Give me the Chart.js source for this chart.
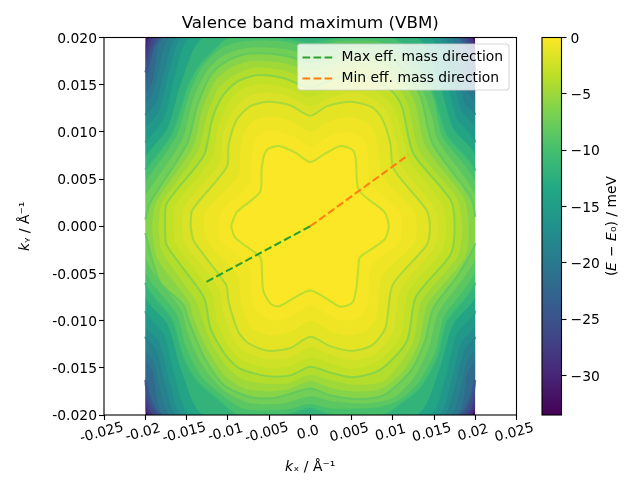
<!DOCTYPE html>
<html>
<head>
<meta charset="utf-8">
<script src="https://cdn.jsdelivr.net/npm/chart.js@4/dist/chart.umd.min.js"></script>
<style>
body{margin:0;background:#fff}
canvas{position:absolute;top:0}
</style>
</head>
<body>
<canvas id="bandChart" width="640" height="480" style="left:0"></canvas>
<canvas id="colourBar" width="110" height="480" style="left:530px"></canvas>
<script>
// contour shapes, in units of 1e-3 1/angstrom
const rim=[[-20,20],[20,20],[20,-20],[-20,-20]]
const c31=[[-20,19.2],[-19.6,20],[19.6,20],[20,19.2],[20,-19.2],[19.6,-20],[-19.6,-20],[-20,-19.2]]
const c29=[[-20,18.5],[-19.3,20],[19.3,20],[20,18.5],[20,-18.5],[19.3,-20],[-19.3,-20],[-20,-18.5]]
const c27=[[-20,17.4],[-18.8,20],[18.8,20],[20,17.4],[20,-17.4],[18.8,-20],[-18.8,-20],[-20,-17.4]]
const c25=[[-20,16.3],[-18.2,20],[18.2,20],[20,16.3],[20,-16.3],[18.2,-20],[-18.2,-20],[-20,-16.3]]
const c23=[[-20,15],[-17.8,20],[17.8,20],[20,15],[20,-15],[17.8,-20],[-17.8,-20],[-20,-15]]
const c21=[[-20,13.9],[-19.1,15.5],[-17.6,20],[17.6,20],[19.1,15.5],[20,13.9],[20,-13.9],[19.1,-15.5],[17.6,-20],[-17.6,-20],[-19.1,-15.5],[-20,-13.9]]
const c19=[[-20,12.9],[-19,14.3],[-18,18],[-16.9,20],[16.9,20],[18,18],[19,14.3],[20,12.9],[20,-12.9],[19,-14.3],[18,-18],[16.9,-20],[-16.9,-20],[-18,-18],[-19,-14.3],[-20,-12.9]]
const c18=[[-20,11.8],[-18.8,13.1],[-17.6,17.1],[-16.2,20],[16.2,20],[17.6,17.1],[18.8,13.1],[20,11.8],[20,-11.7],[18.8,-13.1],[17.6,-17.1],[16.2,-20],[-16.2,-20],[-17.6,-17.1],[-18.8,-13.1],[-20,-11.7]]
const c16=[[-20,10.4],[-18.3,12.3],[-17,16.7],[-15.4,20],[15.4,20],[17,16.7],[18.3,12.3],[20,10.4],[20,-10.4],[18.3,-12.3],[17,-16.7],[15.4,-20],[-15.4,-20],[-17,-16.7],[-18.3,-12.3],[-20,-10.4]]
const c15=[[-20,8.9],[-17.8,11.5],[-16.4,16.3],[-14.5,20],[14.5,20],[16.4,16.3],[17.8,11.5],[20,8.9],[20,-9],[17.8,-11.5],[16.4,-16.3],[14.5,-20],[-14.5,-20],[-16.4,-16.3],[-17.8,-11.5],[-20,-9]]
const c13=[[-20,7.4],[-17.3,10.4],[-15.6,15.3],[-12.8,20],[12.8,20],[15.6,15.3],[17.3,10.4],[20,7.4],[20,-7.4],[17.3,-10.4],[15.6,-15.3],[12.8,-20],[-12.8,-20],[-15.6,-15.3],[-17.3,-10.4],[-20,-7.4]]
const c105=[[-20,6],[-16.8,9.8],[-14.9,14.8],[-13.3,17.3],[-10.9,19.4],[-9.9,20],[-3.5,20],[0,19.5],[3.5,20],[9.9,20],[11.4,19.2],[13.3,17.1],[14.9,14.4],[16.6,9.7],[20,5.9],[20,-6],[16.6,-10.1],[15.4,-14],[13.3,-17.2],[10.9,-18.9],[8.9,-20],[2.4,-20],[0,-19.3],[-2.8,-20],[-8.9,-20],[-10.9,-18.6],[-13.7,-16.5],[-15.4,-14],[-16.8,-9.9],[-20,-6]]
const c92=[[-20,4.7],[-16.2,9.6],[-14.6,14.1],[-13,17],[-10.7,18.9],[-8,19.6],[-3.4,19.6],[0,19],[3.4,19.6],[8,19.6],[11,18.5],[13.3,16.3],[14.9,13.6],[16,9.5],[20,4.6],[20,-4.7],[16.2,-9.6],[15.1,-13.4],[13,-16.7],[10.6,-18.5],[8,-19.2],[2.4,-19.3],[0,-18.8],[-2.8,-19.4],[-7.8,-19.4],[-10.7,-17.9],[-13.3,-15.8],[-15.1,-12.7],[-16.2,-9.3],[-20,-4.7]]
const c79=[[-20,3.3],[-15.5,9.2],[-14.2,13.4],[-12.4,16.6],[-10.3,18.2],[-7.6,18.9],[-3.3,18.8],[0,18.2],[3.3,18.8],[7.6,18.9],[10.6,18],[13.3,15],[14.8,11.5],[15.4,9.2],[20,3.2],[20,-3.4],[15.5,-9.2],[14.4,-12.8],[12.6,-16],[10,-18.2],[6.5,-18.8],[2.4,-18.5],[0,-18],[-3.5,-18.8],[-7.5,-18.7],[-10.6,-17.3],[-13.1,-14.7],[-14.9,-11.2],[-15.6,-8.9],[-20,-3.3]]
const c67=[[-20,0.7],[-19.4,2.5],[-14.9,8.8],[-13.7,12.8],[-11.9,16.2],[-9.9,17.6],[-7.3,18.3],[-3.2,18.1],[0,17.4],[3.3,18.1],[7.3,18.3],[10.3,17.4],[13.3,13.9],[14.8,8.8],[19.4,3.1],[20,1],[20,-1.8],[17.8,-5.3],[14.9,-8.7],[13.9,-12.2],[12.1,-15.4],[8.9,-17.9],[5.7,-18.3],[2.4,-17.9],[0,-17.2],[-4.4,-18.2],[-7.3,-18.1],[-10.5,-16.8],[-12.9,-13.8],[-14.7,-10.1],[-15.4,-8.3],[-18.2,-5.9],[-20,-0.7]]
const c57=[[-19.2,0],[-18.7,2.5],[-14.2,8.4],[-13.1,12.3],[-11.5,15.4],[-9.6,16.8],[-7,17.5],[-3.2,17.3],[0,16.5],[3.2,17.3],[7,17.5],[10.2,16.4],[12.5,13.5],[14,8.4],[18.6,3],[19.2,0],[18.8,-3.2],[14.2,-8.3],[13.2,-12.2],[11.3,-15.3],[8.6,-17.2],[5.5,-17.5],[2.4,-17.1],[0,-16.4],[-2.8,-17.3],[-5,-17.5],[-8,-17.2],[-10.4,-15.8],[-12.6,-12.8],[-14.2,-9.6],[-14.7,-8],[-18.6,-3.3]]
const c46=[[-18.4,0],[-18,2.4],[-13.6,8],[-12.5,11.8],[-11.1,14.6],[-9.2,16],[-6.8,16.8],[-3.2,16.5],[0,15.6],[3.2,16.5],[6.8,16.8],[10,15.4],[11.8,13],[13.2,8],[17.8,2.9],[18.4,0],[17.9,-3.1],[13.5,-7.9],[12.5,-12.2],[10.4,-15.1],[8.7,-16.5],[5.3,-16.8],[2.4,-16.3],[0,-15.7],[-2.6,-16.6],[-5,-16.7],[-8.2,-16.2],[-10.3,-14.7],[-12.3,-11.8],[-13.5,-8.7],[-14,-7.7],[-18,-2.6]]
const c36=[[-17.6,0],[-17.4,2.4],[-12.9,7.5],[-11.9,11.3],[-10.7,13.7],[-8.9,15.3],[-6.5,16],[-3.3,15.7],[0,14.7],[3.3,15.7],[6.4,16],[9.9,14.3],[11.1,12.7],[12.5,7.7],[17,2.8],[17.5,0],[17,-3],[12.8,-7.5],[11.7,-12.2],[8.5,-15.2],[5.2,-16],[2.4,-15.5],[0,-14.9],[-2.4,-15.8],[-5.1,-15.9],[-8.5,-15.1],[-10.3,-13.6],[-12.1,-10.8],[-12.9,-7.5],[-17.4,-2]]
const c30=[[-16.6,0],[-16.4,2.2],[-12,7.1],[-11.2,10.4],[-10.1,12.9],[-8.4,14.5],[-6.1,15.1],[-3,14.7],[0,13.7],[3,14.7],[6,15.1],[9.1,13.6],[10.3,12.2],[11.6,8.2],[11.9,7],[16,2.4],[16.5,0],[16,-2.6],[11.9,-7],[11,-11.6],[8.2,-14.3],[5.2,-15.1],[2.4,-14.5],[0,-13.9],[-2.4,-14.8],[-5.1,-15],[-8.2,-14.2],[-9.8,-12.9],[-11.3,-10],[-12,-7],[-16.3,-1.9]]
const c24=[[-15.5,0],[-15.3,2],[-11,6.7],[-10.6,9.5],[-9.5,12.1],[-7.9,13.6],[-5.7,14.2],[-2.7,13.8],[0,12.7],[2.6,13.7],[5.6,14.2],[8.4,13],[9.5,11.8],[10.6,8.5],[11,6.5],[15,2],[15.5,0],[15,-2.3],[11,-6.6],[10,-11.2],[7.9,-13.5],[5.1,-14.2],[2.4,-13.6],[0,-12.8],[-2.4,-13.9],[-5.1,-14.1],[-7.9,-13.3],[-9.3,-12],[-10.6,-9],[-11.1,-6.6],[-15.2,-1.8]]
const c18b=[[-14.5,0],[-14.3,1.7],[-10.1,6.3],[-9.9,8.6],[-8.9,11.3],[-7.3,12.7],[-5.1,13.2],[-2.4,12.8],[0,11.7],[2,12.7],[4.8,13.2],[7.5,12.6],[8.7,11.4],[9.7,8.8],[10.1,6.1],[14.1,1.7],[14.5,0],[14.1,-2],[10,-6.2],[9.1,-10.8],[7.5,-12.6],[5.1,-13.2],[2.4,-12.7],[0,-11.7],[-2.4,-12.9],[-5.1,-13.2],[-7.5,-12.4],[-8.7,-11.2],[-9.9,-8],[-10.2,-6.2],[-14.1,-1.6]]
const c14=[[-12.9,0],[-12.7,1.6],[-8.7,5.4],[-8.5,7.9],[-7.8,10.3],[-6.5,11.3],[-4.7,11.6],[-2.2,11.1],[0,10],[2,11],[4.4,11.6],[6.6,11.1],[7.6,10.2],[8.3,8],[8.7,5.4],[12.6,1.6],[12.9,0],[12.6,-1.8],[8.7,-5.3],[8,-9.6],[6.7,-11.1],[4.6,-11.6],[2.4,-11.1],[0,-10],[-2.4,-11.2],[-4.7,-11.6],[-6.7,-11],[-7.7,-10],[-8.5,-7.4],[-8.8,-5.2],[-12.6,-1.5]]
const c09=[[-11.2,0],[-10.8,1.5],[-7.4,4.5],[-7.2,6.9],[-6.7,9.2],[-5.8,10],[-4.2,10.1],[-2,9.5],[0,8.4],[1.9,9.4],[4,10],[5.8,9.7],[6.6,9],[7,7.7],[7.3,4.6],[10.9,1.5],[11.1,0],[10.9,-1.6],[7.4,-4.3],[7,-8.2],[5.9,-9.7],[4.1,-10],[2.4,-9.5],[0,-8.4],[-2.4,-9.6],[-4.2,-10],[-5.7,-9.6],[-6.7,-8.7],[-7.2,-7.1],[-7.5,-4.2],[-10.9,-1.4]]
const c05=[[-9.6,0],[-8.9,1.5],[-6.1,3.6],[-5.9,6],[-5.6,7.5],[-5.1,8.2],[-3.8,8.5],[-1.8,7.8],[0,6.8],[1.8,7.7],[3.7,8.5],[5.1,8.1],[5.5,7.2],[5.9,3.8],[9,1.5],[9.5,0],[9,-1.4],[6.1,-3.2],[5.9,-3.6],[5.6,-6.5],[5.1,-8.1],[3.6,-8.5],[0,-6.8],[-3.8,-8.5],[-4.8,-8.2],[-5.7,-6.8],[-5.9,-3.8],[-6.1,-3.2],[-9.1,-1.2]]

const contourLevels=[-33.5,-31,-29,-27,-25,-23,-21,-19.5,-18,-16.5,-15,-13,-10.5,-9.2,-7.9,-6.6,-5.4,-4.3,-3.4,-2.8,-2.2,-1.6,-1.0,-0.5,-0.2]
const contourShapes=[rim,c31,c29,c27,c25,c23,c21,c19,c18,c16,c15,c13,c105,c92,c79,c67,c57,c46,c36,c30,c24,c18b,c14,c09,c05]

// the drawn contour lines and the tone each one has on the colour scale
const lineShapes=[c25,c18,c15,c105,c67,c36,c18b,c05]
const lineTones=[-25,-19,-15.5,-11.5,-8.6,-6.8,-5.4,-4.6]

// white either side of the sampled range, the curves overshoot it a little
const leftBlank=[[-26,21],[-20,21],[-20,-21],[-26,-21]]
const rightBlank=[[20,21],[26,21],[26,-21],[20,-21]]

const maxDirX=[0,-12.6]
const maxDirY=[0,-5.9]
const minDirX=[0,11.9]
const minDirY=[0,7.55]

const xTicks=[-0.025,-0.02,-0.015,-0.01,-0.005,0,0.005,0.01,0.015,0.02,0.025]
const xTickLabels=['-0.025','-0.02','-0.015','-0.01','-0.005','0.0','0.005','0.01','0.015','0.02','0.025']
const yTicks=[-0.02,-0.015,-0.01,-0.005,0,0.005,0.01,0.015,0.02]
const yTickLabels=['-0.020','-0.015','-0.010','-0.005','0.000','0.005','0.010','0.015','0.020']
const barRange=[-33.5,0]
const barTicks=[-30,-25,-20,-15,-10,-5,0]

const viridisStops=[[68,1,84],[72,36,117],[65,68,135],[53,95,141],[42,120,142],[33,145,140],[34,168,132],[68,191,112],[122,209,81],[189,223,38],[253,231,37]]

function viridis(value,alpha){
    const t=Math.min(1,Math.max(0,(value-barRange[0])/(barRange[1]-barRange[0])))*10
    const i=Math.min(9,Math.floor(t))
    const c=viridisStops[i].map((v,k)=>Math.round(v+(viridisStops[i+1][k]-v)*(t-i)))
    return `rgba(${c[0]},${c[1]},${c[2]},${alpha===undefined?1:alpha})`
}
const toPoints=(shape)=>shape.concat([shape[0]]).map(p=>({x:p[0]/1000,y:p[1]/1000}))
const dirPoints=(xs,ys)=>xs.map((x,i)=>({x:x/1000,y:ys[i]/1000}))
const onRim=(a,b)=>(Math.abs(a.x)>0.01999&&Math.abs(b.x)>0.01999&&a.x*b.x>0)||(Math.abs(a.y)>0.01999&&Math.abs(b.y)>0.01999&&a.y*b.y>0)

Chart.defaults.font.family='"DejaVu Sans"'
Chart.defaults.color='#000'
Chart.defaults.animation=false

const datasets=[]
contourShapes.forEach((shape,i)=>{
    const next=i+1<contourLevels.length?contourLevels[i+1]:0
    datasets.push({
        label:'',
        data:toPoints(shape),
        showLine:true,
        pointRadius:0,
        borderWidth:0,
        tension:i==0?0:0.25,
        fill:'shape',
        backgroundColor:viridis((contourLevels[i]+next)/2),
        order:200-i
    })
})
;[leftBlank,rightBlank].forEach((shape)=>{
    datasets.push({label:'',data:toPoints(shape),showLine:true,pointRadius:0,borderWidth:0,fill:'shape',backgroundColor:'#fff',order:100})
})
lineShapes.forEach((shape,i)=>{
    datasets.push({
        label:'',
        data:toPoints(shape),
        showLine:true,
        pointRadius:0,
        borderWidth:2,
        tension:0.25,
        borderColor:viridis(lineTones[i],0.75),
        segment:{borderColor:(ctx)=>onRim(ctx.p0.parsed,ctx.p1.parsed)?'transparent':undefined},
        order:50-i
    })
})
datasets.push({
    label:'Max eff. mass direction',
    data:dirPoints(maxDirX,maxDirY),
    showLine:true,
    pointRadius:0,
    borderWidth:2.08,
    borderDash:[7.7,3.3],
    borderColor:'#2ca02c',
    backgroundColor:'#2ca02c',
    order:1
})
datasets.push({
    label:'Min eff. mass direction',
    data:dirPoints(minDirX,minDirY),
    showLine:true,
    pointRadius:0,
    borderWidth:2.08,
    borderDash:[7.7,3.3],
    borderColor:'#ff7f0e',
    backgroundColor:'#ff7f0e',
    order:2
})

function frame(chart){
    const {ctx,chartArea:a}=chart
    ctx.save()
    ctx.strokeStyle='#000'
    ctx.lineWidth=1.1
    ctx.strokeRect(a.left,a.top,a.right-a.left,a.bottom-a.top)
    ctx.restore()
}
// canvas text sits a bit higher than in the reference
function nudgeLabels(scale){
    scale.getLabelItems().forEach(item=>{item.options.translation[1]+=1.5})
}

const bandPlugin={
    id:'bandPlugin',
    beforeLayout(chart){
        // legend has to sit above the contours
        const legend=chart.legend
        legend._layers=()=>[{z:1,draw(){legend.draw()}}]
    },
    afterLayout(chart){
        const legend=chart.legend
        legend.left=295.4
        legend.right=512
        legend.top=43.5
        legend.bottom=120
        // matplotlib centres rotated labels under the tick
        chart.scales.x.getLabelItems().forEach(item=>{
            item.textOffset=0
            item.options.textAlign='center'
            item.options.textBaseline='middle'
            item.options.translation[1]=433
        })
        nudgeLabels(chart.scales.y)
    },
    afterDatasetsDraw(chart){
        frame(chart)
        const ctx=chart.ctx
        ctx.save()
        ctx.beginPath()
        ctx.roundRect(297.5,44,211.5,46,3)
        ctx.fillStyle='rgba(255,255,255,0.8)'
        ctx.fill()
        ctx.strokeStyle='rgba(204,204,204,0.8)'
        ctx.lineWidth=1.1
        ctx.stroke()
        ctx.restore()
    }
}

new Chart(document.getElementById('bandChart'),{
    type:'scatter',
    data:{datasets},
    plugins:[bandPlugin],
    options:{
        responsive:false,
        layout:{padding:{right:123.5}},
        plugins:{
            title:{
                display:true,
                text:'Valence band maximum (VBM)',
                fullSize:false,
                font:{size:16.67,weight:'normal'},
                padding:{top:13.5,bottom:4}
            },
            tooltip:{enabled:false},
            legend:{
                position:'chartArea',
                align:'start',
                labels:{
                    generateLabels:(chart)=>Chart.defaults.plugins.legend.labels.generateLabels(chart).map(item=>{
                        item.lineDash=[7.7,3.3,7.7,3.3,7.7,10]
                        return item
                    }),
                    filter:(item)=>item.text!=='',
                    usePointStyle:true,
                    pointStyle:'line',
                    pointStyleWidth:32,
                    padding:7.1,
                    font:{size:13.89}
                }
            }
        },
        scales:{
            x:{
                type:'linear',
                min:-0.025,
                max:0.025,
                grid:{drawOnChartArea:false,tickLength:5,tickColor:'#000',tickWidth:1.1},
                border:{display:false},
                afterBuildTicks:(s)=>{s.ticks=xTicks.map(v=>({value:v}))},
                afterFit:(s)=>{s.height=65;s.paddingLeft=0;s.paddingRight=0},
                ticks:{
                    autoSkip:false,
                    minRotation:15,
                    maxRotation:15,
                    font:{size:13.89},
                    callback:(v,i)=>xTickLabels[i]
                },
                title:{display:true,text:'𝘬ₓ / Å⁻¹',font:{size:13.89},padding:{top:4,bottom:4}}
            },
            y:{
                type:'linear',
                min:-0.02,
                max:0.02,
                grid:{drawOnChartArea:false,tickLength:5,tickColor:'#000',tickWidth:1.1},
                border:{display:false},
                afterBuildTicks:(s)=>{s.ticks=yTicks.map(v=>({value:v}))},
                afterFit:(s)=>{s.width=104;s.paddingTop=0;s.paddingBottom=0},
                ticks:{
                    autoSkip:false,
                    padding:2,
                    font:{size:13.89},
                    callback:(v,i)=>yTickLabels[i]
                },
                title:{display:true,text:'𝘬ᵧ / Å⁻¹',font:{size:13.89},padding:{top:17,bottom:4}}
            }
        }
    }
})

const barTitlePlugin={
    id:'barTitlePlugin',
    afterLayout(chart){
        nudgeLabels(chart.scales.y)
    },
    afterDraw(chart){
        frame(chart)
        const ctx=chart.ctx
        ctx.save()
        ctx.translate(82,226)
        ctx.rotate(-Math.PI/2)
        ctx.font='13.89px "DejaVu Sans"'
        ctx.fillStyle='#000'
        ctx.textAlign='center'
        ctx.textBaseline='middle'
        ctx.fillText('(𝘌 − 𝘌₀) / meV',0,0)
        ctx.restore()
    }
}

new Chart(document.getElementById('colourBar'),{
    type:'bar',
    data:{
        labels:[''],
        datasets:[{
            data:[barRange],
            barPercentage:1,
            categoryPercentage:1,
            borderWidth:0,
            backgroundColor:(ctx)=>{
                const a=ctx.chart.chartArea
                if(!a) return '#000'
                const g=ctx.chart.ctx.createLinearGradient(0,a.bottom,0,a.top)
                viridisStops.forEach((c,i)=>g.addColorStop(i/10,`rgb(${c[0]},${c[1]},${c[2]})`))
                return g
            }
        }]
    },
    plugins:[barTitlePlugin],
    options:{
        responsive:false,
        layout:{padding:{left:12,top:37.5,bottom:65}},
        plugins:{legend:{display:false},tooltip:{enabled:false}},
        scales:{
            x:{display:false},
            y:{
                position:'right',
                min:barRange[0],
                max:barRange[1],
                grid:{drawOnChartArea:false,tickLength:5,tickColor:'#000',tickWidth:1.1},
                border:{display:false},
                afterBuildTicks:(s)=>{s.ticks=barTicks.map(v=>({value:v}))},
                afterFit:(s)=>{s.width=78.5;s.paddingTop=0;s.paddingBottom=0},
                ticks:{
                    autoSkip:false,
                    padding:4,
                    font:{size:13.89},
                    callback:(v)=>String(v).replace('-','−')
                }
            }
        }
    }
})
</script>
</body>
</html>
